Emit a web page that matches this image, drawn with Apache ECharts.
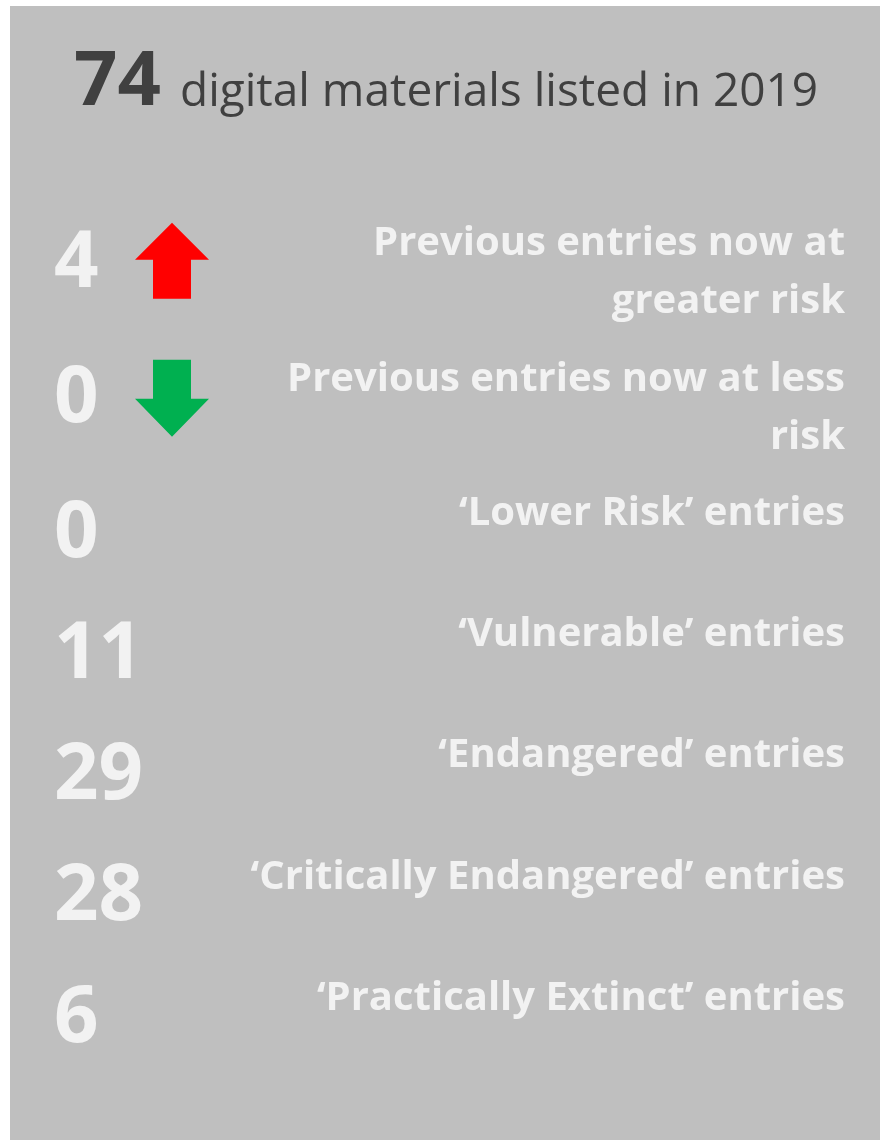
<!DOCTYPE html>
<html>
<head>
<meta charset="utf-8">
<script src="https://cdn.jsdelivr.net/npm/echarts@6.0.0/dist/echarts.min.js"></script>
<style>
  html, body { margin: 0; padding: 0; background: #fff; }
  #chart { width: 883px; height: 1140px; }
</style>
</head>
<body>
<div id="chart"></div>
<script>
// change since last list (rows with arrows)
const changeLabels = ["Previous entries now at\ngreater risk", "Previous entries now at less\nrisk"];
const changeCounts = [4, 0];
const changeDirs = ["up", "down"];

// entries per risk level
const statusLabels = ["‘Lower Risk’ entries", "‘Vulnerable’ entries", "‘Endangered’ entries", "‘Critically Endangered’ entries", "‘Practically Extinct’ entries"];
const statusCounts = [0, 11, 29, 28, 6];

const columns = ["count", "label"];
const year = 2019;
const total = statusCounts.reduce((a, b) => a + b, 0);

const FONT = "'Open Sans', Lato, sans-serif";
const ARROW_UP = "path://M37,0 L74,37 L56,37 L56,76 L18,76 L18,37 L0,37 Z";
const ARROW_DOWN = "path://M18,0 L56,0 L56,39 L74,39 L37,77 L0,39 L18,39 Z";

const chart = echarts.init(document.getElementById("chart"));

const countLabel = {
    show: true, position: "right", distance: 0,
    formatter: p => p.value[2],
    color: "#fff", fontFamily: FONT, fontWeight: "bold", fontSize: 78
};
const nameLabel = {
    show: true, position: "left", distance: 0, verticalAlign: "top", align: "right",
    offset: [0, -50], lineHeight: 58,
    formatter: p => p.value[1],
    color: "#fff", fontFamily: FONT, fontWeight: "bold", fontSize: 40
};

function hiddenX(gi) {
    return { gridIndex: gi, type: "category", data: columns, boundaryGap: false, show: false };
}
function hiddenY(gi, cats) {
    return { gridIndex: gi, type: "category", data: cats, inverse: true, show: false };
}

chart.setOption({
    animation: false,
    graphic: [{
        type: "rect", z: -10, silent: true,
        shape: { x: 10, y: 6, width: 870, height: 1134 },
        style: { fill: "#bfbfbf" }
    }],
    title: [
        { text: String(total), left: 74, top: 45, padding: 0,
          textStyle: { color: "#404040", fontFamily: FONT, fontWeight: "bold", fontSize: 76 } },
        { text: "digital materials listed in " + year, left: 180, top: 70, padding: 0,
          textStyle: { color: "#404040", fontFamily: FONT, fontWeight: "normal", fontSize: 46 } }
    ],
    grid: [
        { left: 54, right: 38, top: 197, height: 271 },
        { left: 54, right: 38, top: 474, height: 606 }
    ],
    xAxis: [hiddenX(0), hiddenX(1)],
    yAxis: [hiddenY(0, changeLabels), hiddenY(1, statusLabels)],
    series: [
        { type: "scatter", xAxisIndex: 0, yAxisIndex: 0, symbolSize: 0, label: countLabel,
          data: changeLabels.map((n, i) => ["count", n, changeCounts[i]]) },
        { type: "scatter", xAxisIndex: 0, yAxisIndex: 0, symbolSize: 0, label: nameLabel,
          data: changeLabels.map(n => ["label", n]) },
        { type: "scatter", xAxisIndex: 0, yAxisIndex: 0,
          data: changeLabels.map((n, i) => ({
              value: ["count", n, changeCounts[i]],
              symbol: changeDirs[i] === "up" ? ARROW_UP : ARROW_DOWN,
              symbolSize: changeDirs[i] === "up" ? [74, 76] : [74, 77],
              symbolOffset: changeDirs[i] === "up" ? [118, -4] : [118, -2],
              itemStyle: { color: changeDirs[i] === "up" ? "#ff0000" : "#00b050", opacity: 1 }
          })) },
        { type: "scatter", xAxisIndex: 1, yAxisIndex: 1, symbolSize: 0, label: countLabel,
          data: statusLabels.map((n, i) => ["count", n, statusCounts[i]]) },
        { type: "scatter", xAxisIndex: 1, yAxisIndex: 1, symbolSize: 0, label: nameLabel,
          data: statusLabels.map(n => ["label", n]) }
    ]
});
</script>
</body>
</html>
